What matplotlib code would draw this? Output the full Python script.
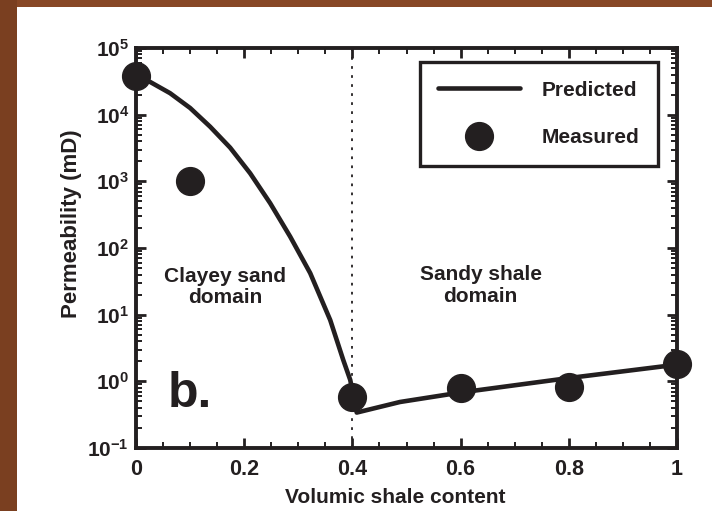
import numpy as np
import matplotlib
matplotlib.use("Agg")
import matplotlib.pyplot as plt
from matplotlib.patches import Rectangle
from matplotlib.ticker import LogLocator, MultipleLocator, FixedLocator

plt.rcParams['font.family'] = ['Liberation Sans', 'DejaVu Sans']
plt.rcParams['font.weight'] = 'bold'
plt.rcParams['mathtext.fontset'] = 'custom'
plt.rcParams['mathtext.rm'] = 'Liberation Sans:bold'
plt.rcParams['mathtext.bf'] = 'Liberation Sans:bold'
plt.rcParams['mathtext.default'] = 'bf'

ink = '#231f20'

# predicted curve
pred_x = [0, 0.026, 0.063, 0.100, 0.137, 0.174, 0.211, 0.248, 0.285, 0.322, 0.359,
          0.383, 0.396, 0.408, 0.488, 0.6, 0.8, 1.0]
pred_k = [3.7e4, 3.1e4, 2.1e4, 1.26e4, 6.6e3, 3.2e3, 1.32e3, 470, 148, 42, 8.3,
          2.1, 1.05, 0.34, 0.49, 0.68, 1.12, 1.78]

# measured points
meas_x = [0, 0.1, 0.4, 0.6, 0.8, 1.0]
meas_k = [3.8e4, 1.0e3, 0.59, 0.79, 0.83, 1.8]

xticks = [0, 0.2, 0.4, 0.6, 0.8, 1]
xticklabels = ['0', '0.2', '0.4', '0.6', '0.8', '1']
yticks = [1e-1, 1e0, 1e1, 1e2, 1e3, 1e4, 1e5]
yticklabels = [r'$10^{-1}$', r'$10^{0}$', r'$10^{1}$', r'$10^{2}$', r'$10^{3}$', r'$10^{4}$', r'$10^{5}$']

fig = plt.figure(figsize=(7.12, 5.11), dpi=100)
fig.patch.set_facecolor('white')

# brown slide border
fig.patches.append(Rectangle((0, 1 - 7 / 511), 1, 7 / 511, transform=fig.transFigure,
                             facecolor='#884826', edgecolor='none', zorder=0))
fig.patches.append(Rectangle((0, 0), 17 / 712, 1, transform=fig.transFigure,
                             facecolor='#7a3f20', edgecolor='none', zorder=0))

ax = fig.add_axes([136 / 712, 1 - 448 / 511, 541 / 712, 400 / 511])
ax.set_yscale('log')
ax.set_xlim(0, 1)
ax.set_ylim(1e-1, 1e5)

ax.axvline(0.4, color=ink, lw=1.3, ls=(0, (1.5, 3.5)), zorder=1)
ax.plot(pred_x, pred_k, color=ink, lw=3.3, solid_capstyle='round', solid_joinstyle='round',
        label='Predicted', zorder=2)
ax.plot(meas_x, meas_k, 'o', color=ink, ms=20, clip_on=False, label='Measured', zorder=3)

ax.xaxis.set_major_locator(FixedLocator(xticks))
ax.set_xticklabels(xticklabels)
ax.xaxis.set_minor_locator(MultipleLocator(0.05))
ax.yaxis.set_major_locator(FixedLocator(yticks))
ax.set_yticklabels(yticklabels)
ax.yaxis.set_minor_locator(LogLocator(base=10, subs=np.arange(2, 10), numticks=20))

ax.tick_params(which='both', direction='in', top=True, right=True, color=ink)
ax.tick_params(which='major', length=7, width=2, labelcolor=ink)
ax.tick_params(axis='x', which='major', labelsize=15.5, pad=8)
ax.tick_params(axis='y', which='major', labelsize=15, pad=5)
ax.tick_params(which='minor', length=4.5, width=1.4)
for s in ax.spines.values():
    s.set_linewidth(2.8)
    s.set_color(ink)

ax.set_xlabel('Volumic shale content', fontsize=15, fontweight='bold', color=ink)
ax.set_ylabel('Permeability (mD)', fontsize=16, fontweight='bold', color=ink)
ax.xaxis.set_label_coords(0.479, -0.1)
ax.yaxis.set_label_coords(-0.10, 0.56)

ax.text(0.1645, 0.415, 'Clayey sand', transform=ax.transAxes, ha='center', va='baseline',
        fontsize=15, fontweight='bold', color=ink)
ax.text(0.1645, 0.3625, 'domain', transform=ax.transAxes, ha='center', va='baseline',
        fontsize=15, fontweight='bold', color=ink)
ax.text(0.637, 0.42, 'Sandy shale', transform=ax.transAxes, ha='center', va='baseline',
        fontsize=15, fontweight='bold', color=ink)
ax.text(0.637, 0.365, 'domain', transform=ax.transAxes, ha='center', va='baseline',
        fontsize=15, fontweight='bold', color=ink)
ax.text(0.1, 0.1025, 'b.', transform=ax.transAxes, ha='center', va='baseline',
        fontsize=36, fontweight='bold', color=ink)

leg = ax.legend(loc='upper right', bbox_to_anchor=(0.965, 0.965), fancybox=False,
                frameon=True, prop={'size': 15, 'weight': 'bold'}, handlelength=3.9,
                handletextpad=1.05, borderpad=0.9, labelspacing=1.35, markerscale=1.0,
                borderaxespad=0, framealpha=1)
leg.get_frame().set_edgecolor(ink)
leg.get_frame().set_linewidth(2.4)
for t in leg.get_texts():
    t.set_color(ink)

fig.savefig('out.png', dpi=100)
